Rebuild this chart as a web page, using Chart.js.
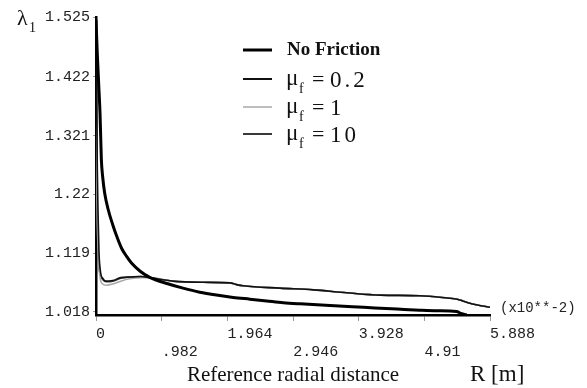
<!DOCTYPE html>
<html>
<head>
<meta charset="utf-8">
<script src="https://cdn.jsdelivr.net/npm/chart.js@4.4.1/dist/chart.umd.min.js"></script>
<style>
  body { margin: 0; background: #fff; }
</style>
</head>
<body>
<canvas id="myChart" width="587" height="388"></canvas>
<script>
// axis ticks
const xTicks = [0, 0.982, 1.964, 2.946, 3.928, 4.91, 5.888];
const xTickLabels = ['0', '.982', '1.964', '2.946', '3.928', '4.91', '5.888'];
const yTicks = [1.018, 1.119, 1.22, 1.321, 1.422, 1.525];
const yTickLabels = ['1.018', '1.119', '1.22', '1.321', '1.422', '1.525'];

// no friction curve (R x10^-2 m, lambda_1)
const rNoFriction = [0, 0.02, 0.04, 0.06, 0.07, 0.08, 0.10, 0.13, 0.18, 0.25, 0.31, 0.38, 0.46, 0.53, 0.66, 0.81,
  1.06, 1.30, 1.55, 1.80, 2.05, 2.30, 2.55, 2.80, 3.05, 3.50, 4.00, 4.50, 4.84, 5.10, 5.39, 5.44, 5.54];
const lambdaNoFriction = [1.520, 1.460, 1.410, 1.360, 1.320, 1.280, 1.250, 1.222, 1.195, 1.168, 1.148, 1.128, 1.113, 1.102, 1.088, 1.077,
  1.067, 1.059, 1.052, 1.047, 1.043, 1.040, 1.037, 1.034, 1.032, 1.029, 1.026, 1.023, 1.021, 1.020, 1.019, 1.016, 1.013];

// friction curves share one R grid
const rFriction = [0, 0.005, 0.01, 0.02, 0.03, 0.045, 0.07, 0.10, 0.15, 0.25, 0.37, 0.50, 0.67, 0.80, 1.15,
  1.60, 2.00, 2.10, 2.20, 2.75, 3.25, 3.75, 4.25, 4.84, 5.25, 5.40, 5.48, 5.56, 5.70, 5.888];
const lambdaMu02 = [1.520, 1.450, 1.370, 1.260, 1.190, 1.120, 1.085, 1.076, 1.071, 1.072, 1.077, 1.078, 1.079, 1.077, 1.071,
  1.069, 1.068, 1.065, 1.063, 1.059, 1.056, 1.051, 1.047, 1.046, 1.042, 1.040, 1.037, 1.034, 1.030, 1.026];
const lambdaMu1 = [1.360, 1.300, 1.250, 1.170, 1.130, 1.095, 1.072, 1.066, 1.064, 1.066, 1.071, 1.075, 1.077, 1.077, 1.071,
  1.069, 1.068, 1.065, 1.063, 1.059, 1.056, 1.051, 1.047, 1.046, 1.042, 1.040, 1.037, 1.034, 1.030, 1.026];
const lambdaMu10 = [1.520, 1.400, 1.310, 1.190, 1.130, 1.095, 1.080, 1.074, 1.070, 1.071, 1.076, 1.078, 1.079, 1.077, 1.071,
  1.069, 1.068, 1.065, 1.063, 1.059, 1.056, 1.051, 1.047, 1.046, 1.042, 1.040, 1.037, 1.034, 1.030, 1.026];

const seriesLabels = ['No Friction', 'μ_f = 0.2', 'μ_f = 1', 'μ_f = 10'];

function pts(xs, ys) {
  return xs.map((x, i) => ({ x: x, y: ys[i] }));
}

// draws the texts the library can't (subscripts, legend, corner notes)
const extraText = {
  id: 'extraText',
  afterDraw(chart) {
    const ctx = chart.ctx;
    ctx.save();
    ctx.fillStyle = '#111';
    ctx.textBaseline = 'alphabetic';
    ctx.textAlign = 'left';

    // lambda_1
    ctx.font = '22px "Liberation Serif"';
    ctx.fillText('λ', 17, 25);
    ctx.font = '14px "Liberation Serif"';
    ctx.fillText('1', 29, 32);

    // scale note
    ctx.font = '14px "Liberation Mono"';
    ctx.fillStyle = '#222';
    ctx.textBaseline = 'middle';
    ctx.fillText('(x10**-2)', 500, 308);

    // R [m]
    ctx.fillStyle = '#111';
    ctx.font = '23px "Liberation Serif"';
    ctx.fillText('R [m]', 470, 375);

    // legend
    const rowY = [50, 79, 107, 134];
    chart.data.datasets.forEach((ds, i) => {
      const y = rowY[i];
      ctx.strokeStyle = ds.borderColor;
      ctx.lineWidth = i === 0 ? 3 : (i === 2 ? 1.5 : 2);
      ctx.beginPath();
      ctx.moveTo(243, y);
      ctx.lineTo(272, y);
      ctx.stroke();

      ctx.fillStyle = '#111';
      const label = ds.label;
      if (label.indexOf('_') < 0) {
        ctx.textBaseline = 'middle';
        ctx.font = 'bold 19px "Liberation Serif"';
        ctx.fillText(label, 287, y);
      } else {
        ctx.textBaseline = 'alphabetic';
        const sym = label.split('_')[0];
        const sub = label.split('_')[1].charAt(0);
        const rest = label.split('_')[1].slice(1).trim().replace('=', '').trim();
        ctx.font = '23px "Liberation Serif"';
        ctx.fillText(sym, 286, y + 6);
        ctx.font = '14px "Liberation Serif"';
        ctx.fillText(sub, 299, y + 14);
        ctx.font = '22px "Liberation Serif"';
        ctx.fillText('=', 312, y + 7);
        ctx.font = '23px "Liberation Serif"';
        ctx.letterSpacing = '3px';
        ctx.fillText(rest, 330, y + 8);
        ctx.letterSpacing = '0px';
      }
    });
    ctx.restore();
  }
};

new Chart(document.getElementById('myChart'), {
  type: 'scatter',
  data: {
    datasets: [
      { label: seriesLabels[0], data: pts(rNoFriction, lambdaNoFriction), borderColor: '#000', borderWidth: 3 },
      { label: seriesLabels[1], data: pts(rFriction, lambdaMu02), borderColor: '#111', borderWidth: 1.6 },
      { label: seriesLabels[2], data: pts(rFriction, lambdaMu1), borderColor: '#a8a8a8', borderWidth: 1.6 },
      { label: seriesLabels[3], data: pts(rFriction, lambdaMu10), borderColor: '#3a3a3a', borderWidth: 1.6 }
    ].map(d => Object.assign(d, { showLine: true, pointRadius: 0, cubicInterpolationMode: 'monotone', fill: false }))
  },
  options: {
    responsive: false,
    animation: false,
    layout: { padding: { left: 0, right: 97, top: 17, bottom: 0 } },
    plugins: {
      legend: { display: false },
      tooltip: { enabled: false }
    },
    scales: {
      x: {
        type: 'linear',
        min: 0,
        max: 5.888,
        afterBuildTicks: (scale) => { scale.ticks = xTicks.map(v => ({ value: v })); },
        afterFit: (scale) => { scale.height = 73; },
        border: { display: true, color: '#000', width: 2.5 },
        grid: { display: true, drawOnChartArea: false, drawTicks: true, tickLength: 6, color: '#999' },
        ticks: {
          autoSkip: false,
          maxRotation: 0,
          align: 'start',
          padding: 4,
          color: '#222',
          font: { family: 'Liberation Mono', size: 15, lineHeight: '18px' },
          callback: (value, index) => index % 2 === 0 ? [xTickLabels[index], ''] : ['', xTickLabels[index]]
        },
        title: {
          display: true,
          text: 'Reference radial distance',
          color: '#111',
          font: { family: 'Liberation Serif', size: 21 },
          padding: { top: 0, bottom: 0 }
        }
      },
      y: {
        type: 'linear',
        min: 1.0128,
        max: 1.525,
        afterBuildTicks: (scale) => { scale.ticks = yTicks.map(v => ({ value: v })); },
        afterFit: (scale) => { scale.width = 96; },
        border: { display: true, color: '#000', width: 2.5 },
        grid: { display: true, drawOnChartArea: false, drawTicks: true, tickLength: 3, color: '#999' },
        ticks: {
          autoSkip: false,
          padding: 3,
          color: '#222',
          font: { family: 'Liberation Mono', size: 15 },
          callback: (value, index) => yTickLabels[index]
        }
      }
    }
  },
  plugins: [extraText]
});
</script>
</body>
</html>
